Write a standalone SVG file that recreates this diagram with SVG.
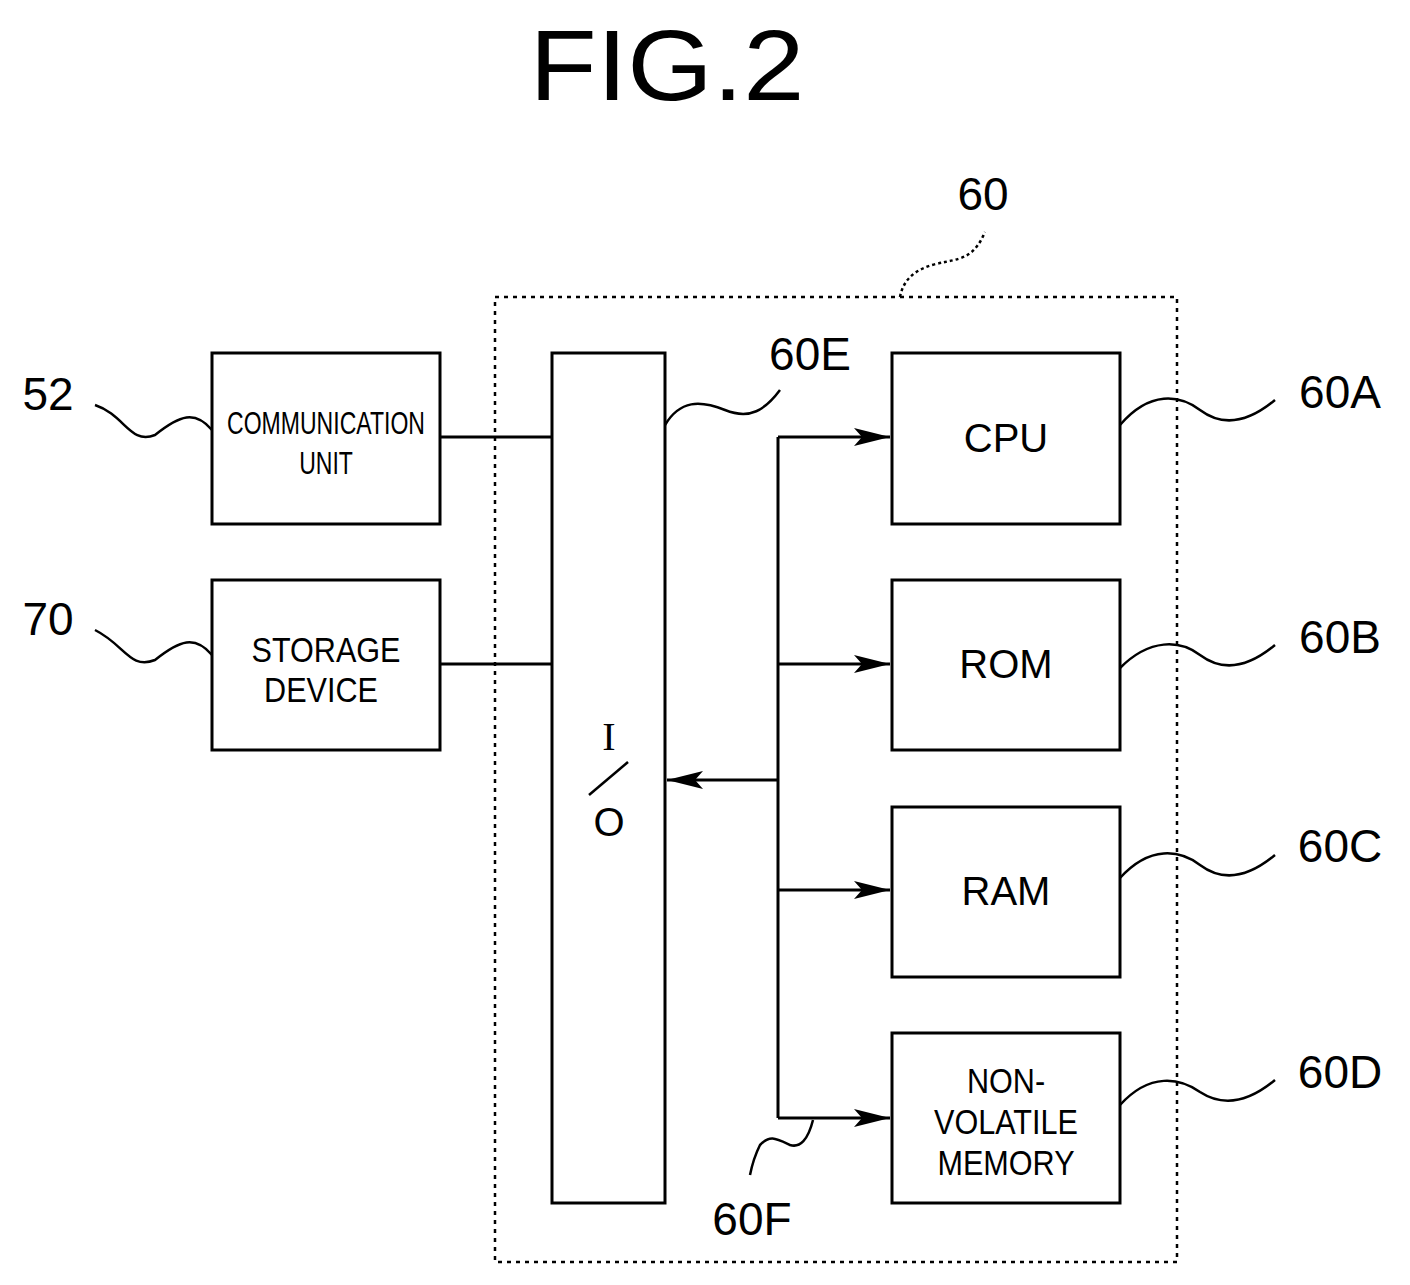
<svg xmlns="http://www.w3.org/2000/svg" width="1410" height="1285" viewBox="0 0 1410 1285">
<defs>
<style>
.b{fill:#fff;stroke:#000;stroke-width:3}
.l{fill:none;stroke:#000;stroke-width:3}
.s{fill:none;stroke:#000;stroke-width:2.5}
.t{font-family:"Liberation Sans",Arial,sans-serif;fill:#000;text-anchor:middle}
.n{font-family:"Liberation Sans",Arial,sans-serif;fill:#000;font-size:46px;text-anchor:middle}
</style>
<marker id="a" viewBox="0 0 36 20" refX="36" refY="10" markerWidth="36" markerHeight="20" markerUnits="userSpaceOnUse" orient="auto"><path d="M0,1L36,10L0,19L8,10z" fill="#000"/></marker>
</defs>
<rect width="1410" height="1285" fill="#fff"/>
<text class="t" x="667" y="100" font-size="100" transform="translate(667,100) scale(1.1,1) translate(-667,-100)">FIG.2</text>
<g id="g60">
<rect x="495" y="297" width="682" height="965" fill="none" stroke="#000" stroke-width="2.5" stroke-dasharray="4,5"/>
<path class="s" stroke-dasharray="3,3" d="M900,297C905,270 930,265 945,262C965,258 975,255 985,232"/>
<text class="n" x="983" y="210">60</text>
</g>
<g id="comm"><rect class="b" x="212" y="353" width="228" height="171"/>
<text class="t" font-size="32" transform="translate(326,434) scale(0.72,1)">COMMUNICATION</text>
<text class="t" font-size="32" transform="translate(326,474) scale(0.72,1)">UNIT</text>
<path class="s" d="M95,405C125,415 130,445 155,435C180,415 195,410 212,430"/>
<text class="n" x="48" y="410">52</text></g>
<g id="storage"><rect class="b" x="212" y="580" width="228" height="170"/>
<text class="t" font-size="36" transform="translate(326,662) scale(0.85,1)">STORAGE</text>
<text class="t" font-size="36" transform="translate(321,702) scale(0.85,1)">DEVICE</text>
<path class="s" d="M95,630C125,645 130,670 155,660C180,640 195,635 212,655"/>
<text class="n" x="48" y="635">70</text></g>
<g id="io"><rect class="b" x="552" y="353" width="113" height="850"/>
<text x="609" y="750" font-family="Liberation Serif,serif" font-size="40" text-anchor="middle">I</text>
<line x1="589" y1="795" x2="628" y2="762" stroke="#000" stroke-width="2.5"/>
<text x="609" y="836" font-family="Liberation Sans,sans-serif" font-size="40" text-anchor="middle">O</text>
<path class="s" d="M665,425C680,400 700,400 725,410C750,420 765,410 780,390"/>
<text class="n" x="810" y="370">60E</text></g>
<g id="cpu"><rect class="b" x="892" y="353" width="228" height="171"/>
<text class="t" font-size="40" x="1006" y="452">CPU</text>
<path class="s" d="M1120,425C1150,390 1180,395 1200,410C1220,425 1245,425 1275,400"/>
<text class="n" x="1340" y="408">60A</text></g>
<g id="rom"><rect class="b" x="892" y="580" width="228" height="170"/>
<text class="t" font-size="40" x="1006" y="678">ROM</text>
<path class="s" d="M1120,668C1150,638 1180,640 1200,655C1220,670 1245,670 1275,645"/>
<text class="n" x="1340" y="653">60B</text></g>
<g id="ram"><rect class="b" x="892" y="807" width="228" height="170"/>
<text class="t" font-size="40" x="1006" y="905">RAM</text>
<path class="s" d="M1120,878C1150,845 1180,850 1200,865C1220,880 1245,880 1275,855"/>
<text class="n" x="1340" y="862">60C</text></g>
<g id="nvm"><rect class="b" x="892" y="1033" width="228" height="170"/>
<text class="t" font-size="36" transform="translate(1006,1093) scale(0.85,1)">NON-</text>
<text class="t" font-size="36" transform="translate(1006,1134) scale(0.85,1)">VOLATILE</text>
<text class="t" font-size="36" transform="translate(1006,1175) scale(0.85,1)">MEMORY</text>
<path class="s" d="M1120,1105C1150,1072 1180,1078 1200,1092C1220,1105 1245,1105 1275,1080"/>
<text class="n" x="1340" y="1088">60D</text></g>
<g id="connectors">
<line class="l" x1="440" y1="437" x2="552" y2="437"/>
<line class="l" x1="440" y1="664" x2="552" y2="664"/>
<line class="l" x1="778" y1="437" x2="778" y2="1118"/>
<line class="l" x1="778" y1="437" x2="890" y2="437" marker-end="url(#a)"/>
<line class="l" x1="778" y1="664" x2="890" y2="664" marker-end="url(#a)"/>
<line class="l" x1="778" y1="890" x2="890" y2="890" marker-end="url(#a)"/>
<line class="l" x1="778" y1="1118" x2="890" y2="1118" marker-end="url(#a)"/>
<line class="l" x1="778" y1="780" x2="667" y2="780" marker-end="url(#a)"/>
<path class="s" d="M813,1120C808,1140 800,1148 790,1145C775,1138 770,1135 760,1145C755,1155 752,1165 750,1175"/>
<text class="n" x="752" y="1235">60F</text>
</g>
</svg>
